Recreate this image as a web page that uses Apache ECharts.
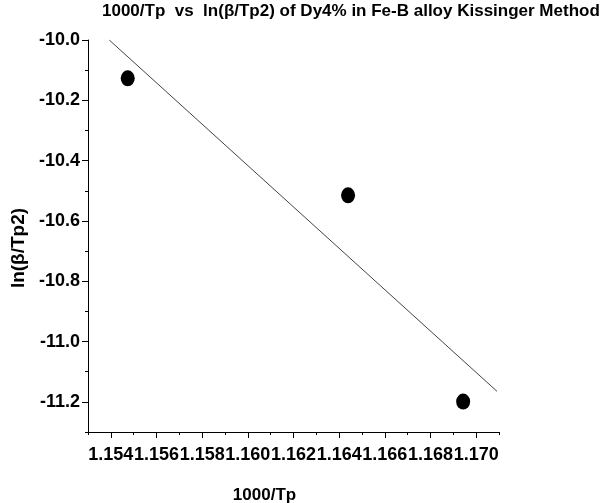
<!DOCTYPE html>
<html>
<head>
<meta charset="utf-8">
<script src="https://cdn.jsdelivr.net/npm/echarts@6/dist/echarts.min.js"></script>
<style>
  html, body { margin: 0; padding: 0; background: #fff; }
  #chart { width: 610px; height: 503px; }
</style>
</head>
<body>
<div id="chart"></div>
<script>
// 数据
var tpInv = [1.15474, 1.16439, 1.16943];      // 1000/Tp
var lnBeta = [-10.127, -10.515, -11.199];     // ln(β/Tp2)
var fitX = [1.15393, 1.17091];                // 拟合直线端点
var fitY = [-10.0, -11.165];
var xMajorTicks = [1.154, 1.156, 1.158, 1.160, 1.162, 1.164, 1.166, 1.168, 1.170];
var xMinorTicks = [1.153, 1.155, 1.157, 1.159, 1.161, 1.163, 1.165, 1.167, 1.169, 1.171];
var yMajorTicks = [-11.2, -11.0, -10.8, -10.6, -10.4, -10.2, -10.0];
var yMinorTicks = [-11.3, -11.1, -10.9, -10.7, -10.5, -10.3, -10.1];

var font = 'Liberation Sans, Arial, sans-serif';

function pairs(xs, ys) {
    return xs.map(function (x, i) { return [x, ys[i]]; });
}

function initChart() {
    var myChart = echarts.init(document.getElementById('chart'));

    var axisCommon = {
        type: 'value',
        splitLine: { show: false },
        axisLine: { show: true, onZero: false, lineStyle: { color: '#000', width: 1 } }
    };

    var option = {
        animation: false,
        title: {
            text: '1000/Tp  vs  ln(β/Tp2) of Dy4% in Fe-B alloy Kissinger Method',
            left: 97,
            top: -2,
            textStyle: { fontFamily: font, fontSize: 17, fontWeight: 'bold', color: '#000' }
        },
        grid: { left: 88, top: 40, right: 111, bottom: 71, outerBoundsMode: 'none', containLabel: false },
        xAxis: [
            Object.assign({}, axisCommon, {
                min: 1.153, max: 1.171,
                position: 'bottom',
                name: '1000/Tp',
                nameLocation: 'middle',
                nameGap: 55,
                nameTextStyle: { fontFamily: font, fontSize: 17, fontWeight: 'bold', color: '#000', padding: [0, 58, 0, 0] },
                axisTick: { show: true, length: 6, customValues: xMajorTicks, lineStyle: { color: '#000' } },
                axisLabel: {
                    customValues: xMajorTicks, margin: 14,
                    fontFamily: font, fontSize: 18, fontWeight: 'bold', color: '#000',
                    formatter: function (v) { return v.toFixed(3); }
                }
            }),
            Object.assign({}, axisCommon, {
                min: 1.153, max: 1.171,
                position: 'bottom',
                axisLine: { show: false },
                axisTick: { show: true, length: 3, customValues: xMinorTicks, lineStyle: { color: '#000' } },
                axisLabel: { show: false }
            })
        ],
        yAxis: [
            Object.assign({}, axisCommon, {
                min: -11.3, max: -10.0,
                position: 'left',
                name: 'ln(β/Tp2)',
                nameLocation: 'middle',
                nameGap: 52,
                nameTextStyle: { fontFamily: font, fontSize: 19, fontWeight: 'bold', color: '#000', padding: [0, 24, 0, 0] },
                axisTick: { show: true, length: 6, customValues: yMajorTicks, lineStyle: { color: '#000' } },
                axisLabel: {
                    customValues: yMajorTicks, margin: 8,
                    fontFamily: font, fontSize: 18, fontWeight: 'bold', color: '#000',
                    formatter: function (v) { return v.toFixed(1); }
                }
            }),
            Object.assign({}, axisCommon, {
                min: -11.3, max: -10.0,
                position: 'left',
                axisLine: { show: false },
                axisTick: { show: true, length: 3, customValues: yMinorTicks, lineStyle: { color: '#000' } },
                axisLabel: { show: false }
            })
        ],
        series: [
            {
                type: 'line',
                data: pairs(fitX, fitY),
                symbol: 'none',
                lineStyle: { color: '#444', width: 1 },
                silent: true
            },
            {
                type: 'scatter',
                data: pairs(tpInv, lnBeta),
                symbol: 'circle',
                symbolSize: [14, 16],
                itemStyle: { color: '#000', opacity: 1 }
            }
        ]
    };

    myChart.setOption(option);
}

window.addEventListener('load', initChart);
</script>
</body>
</html>
